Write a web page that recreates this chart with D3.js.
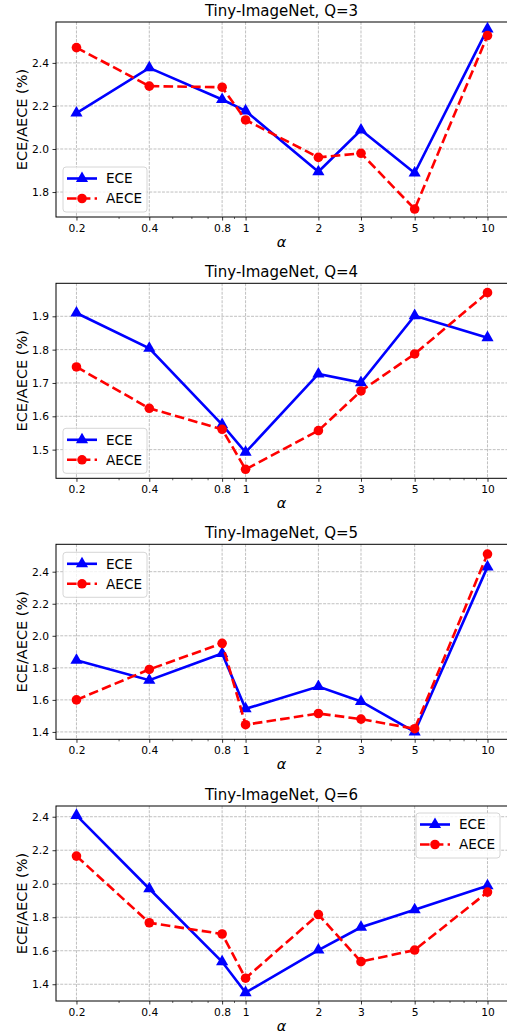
<!DOCTYPE html>
<html><head><meta charset="utf-8">
<script src="https://cdn.jsdelivr.net/npm/d3@7"></script>
<style>body{margin:0;background:#fff}svg{display:block}text{font-family:"DejaVu Sans",sans-serif;fill:#000}</style>
</head><body>
<svg id="c" width="507" height="1036"></svg>
<script>
const alphas = [0.2, 0.4, 0.8, 1, 2, 3, 5, 10];
const xTickLabels = ["0.2", "0.4", "0.8", "1", "2", "3", "5", "10"];
const minorTicks = [0.3, 0.5, 0.6, 0.7, 0.9, 4, 6, 7, 8, 9];
const titles = ["Tiny-ImageNet, Q=3", "Tiny-ImageNet, Q=4", "Tiny-ImageNet, Q=5", "Tiny-ImageNet, Q=6"];
const eceQ3  = [2.167, 2.377, 2.230, 2.177, 1.894, 2.088, 1.888, 2.558];
const aeceQ3 = [2.471, 2.292, 2.287, 2.135, 1.961, 1.980, 1.721, 2.527];
const eceQ4  = [1.910, 1.804, 1.575, 1.492, 1.727, 1.701, 1.902, 1.836];
const aeceQ4 = [1.748, 1.624, 1.561, 1.441, 1.557, 1.676, 1.787, 1.971];
const eceQ5  = [1.848, 1.723, 1.890, 1.544, 1.683, 1.590, 1.400, 2.430];
const aeceQ5 = [1.600, 1.790, 1.953, 1.445, 1.515, 1.480, 1.420, 2.510];
const eceQ6  = [2.408, 1.970, 1.534, 1.350, 1.604, 1.740, 1.845, 1.988];
const aeceQ6 = [2.165, 1.767, 1.700, 1.436, 1.816, 1.535, 1.604, 1.950];
const yDomains = [[1.684, 2.590], [1.414, 1.999], [1.354, 2.571], [1.300, 2.464]];
const yTicks = [[1.8, 2.0, 2.2, 2.4], [1.5, 1.6, 1.7, 1.8, 1.9], [1.4, 1.6, 1.8, 2.0, 2.2, 2.4], [1.4, 1.6, 1.8, 2.0, 2.2, 2.4]];
const legendPos = ["ll", "ll", "ul", "ur"];
const seriesNames = ["ECE", "AECE"];

const panels = [
  {ece: eceQ3, aece: aeceQ3},
  {ece: eceQ4, aece: aeceQ4},
  {ece: eceQ5, aece: aeceQ5},
  {ece: eceQ6, aece: aeceQ6}
];
const tops = [22, 283.3, 544.3, 806];
const L = 56, R = 507, H = 195;

const svg = d3.select("#c");
const x = d3.scaleLog().domain([0.1646, 12.04]).range([L, R]);

const triPath = d3.symbol().type(d3.symbolTriangle).size(64)();

panels.forEach((p, i) => {
  const top = tops[i], bot = top + H;
  const y = d3.scaleLinear().domain(yDomains[i]).range([bot, top]);
  const g = svg.append("g");

  // grid
  g.append("g").selectAll("line").data(alphas).join("line")
    .attr("x1", d => x(d)).attr("x2", d => x(d)).attr("y1", top).attr("y2", bot)
    .attr("stroke", "#b0b0b0").attr("stroke-width", 0.8).attr("stroke-dasharray", "2.96,1.28");
  g.append("g").selectAll("line").data(yTicks[i]).join("line")
    .attr("x1", L).attr("x2", R).attr("y1", d => y(d)).attr("y2", d => y(d))
    .attr("stroke", "#b0b0b0").attr("stroke-width", 0.8).attr("stroke-dasharray", "2.96,1.28");

  // axes
  const xAxis = d3.axisBottom(x).tickValues(alphas).tickFormat((d, k) => xTickLabels[k]).tickSize(3.5).tickPadding(3.5);
  const gx = g.append("g").attr("transform", `translate(0,${bot})`).call(xAxis);
  gx.select(".domain").remove();
  gx.selectAll("text").attr("font-size", 10.7).attr("font-family", "DejaVu Sans").attr("fill", "#000");
  gx.selectAll("line").attr("stroke", "#000").attr("stroke-width", 0.8);
  g.append("g").selectAll("line").data(minorTicks).join("line")
    .attr("x1", d => x(d)).attr("x2", d => x(d)).attr("y1", bot).attr("y2", bot + 2)
    .attr("stroke", "#000").attr("stroke-width", 0.6);

  const yAxis = d3.axisLeft(y).tickValues(yTicks[i]).tickFormat(d3.format(".1f")).tickSize(3.5).tickPadding(3.5);
  const gy = g.append("g").attr("transform", `translate(${L},0)`).call(yAxis);
  gy.select(".domain").remove();
  gy.selectAll("text").attr("font-size", 10.7).attr("font-family", "DejaVu Sans").attr("fill", "#000");
  gy.selectAll("line").attr("stroke", "#000").attr("stroke-width", 0.8);

  // spines
  g.append("rect").attr("x", L).attr("y", top).attr("width", R - L + 1).attr("height", H)
    .attr("fill", "none").attr("stroke", "#000").attr("stroke-width", 1);

  // title / labels
  g.append("text").attr("x", (L + R) / 2).attr("y", top - 6).attr("text-anchor", "middle")
    .attr("font-size", 15).text(titles[i]);
  g.append("text").attr("transform", `translate(27,${(top + bot) / 2}) rotate(-90)`)
    .attr("text-anchor", "middle").attr("font-size", 14.5).text("ECE/AECE (%)");
  g.append("text").attr("x", (L + R) / 2).attr("y", bot + 30).attr("text-anchor", "middle")
    .attr("font-size", 14.5).attr("font-style", "italic").text("α");

  const line = d3.line().x((d, k) => x(alphas[k])).y(d => y(d));

  // ECE
  g.append("path").datum(p.ece).attr("d", line).attr("fill", "none")
    .attr("stroke", "#0000ff").attr("stroke-width", 2.6);
  g.append("g").selectAll("path").data(p.ece).join("path")
    .attr("d", triPath).attr("transform", (d, k) => `translate(${x(alphas[k])},${y(d)})`)
    .attr("fill", "#0000ff");
  // AECE
  g.append("path").datum(p.aece).attr("d", line).attr("fill", "none")
    .attr("stroke", "#ff0000").attr("stroke-width", 2.6).attr("stroke-dasharray", "9.6,4.2");
  g.append("g").selectAll("circle").data(p.aece).join("circle")
    .attr("cx", (d, k) => x(alphas[k])).attr("cy", d => y(d)).attr("r", 4.8)
    .attr("fill", "#ff0000");

  // legend
  const lw = 84, lh = 45;
  let lx, ly;
  if (legendPos[i] === "ll") { lx = L + 7; ly = bot - 5 - lh; }
  else if (legendPos[i] === "ul") { lx = L + 7; ly = top + 8; }
  else { lx = R - 7 - lw; ly = top + 7; }
  const lg = g.append("g").attr("transform", `translate(${lx},${ly})`);
  lg.append("rect").attr("width", lw).attr("height", lh).attr("rx", 3)
    .attr("fill", "#fff").attr("fill-opacity", 0.8).attr("stroke", "#cccccc").attr("stroke-width", 0.8);
  seriesNames.forEach((nm, k) => {
    const cy = 11.5 + k * 20;
    lg.append("line").attr("x1", 4).attr("x2", 34).attr("y1", cy).attr("y2", cy)
      .attr("stroke", k ? "#ff0000" : "#0000ff").attr("stroke-width", 2.6)
      .attr("stroke-dasharray", k ? "9.6,4.2" : null);
    if (k) lg.append("circle").attr("cx", 19).attr("cy", cy).attr("r", 4.8).attr("fill", "#ff0000");
    else lg.append("path").attr("d", triPath).attr("transform", `translate(19,${cy})`).attr("fill", "#0000ff");
    lg.append("text").attr("x", 43).attr("y", cy + 4.8).attr("font-size", 13.6).text(nm);
  });
});
</script>
</body></html>
